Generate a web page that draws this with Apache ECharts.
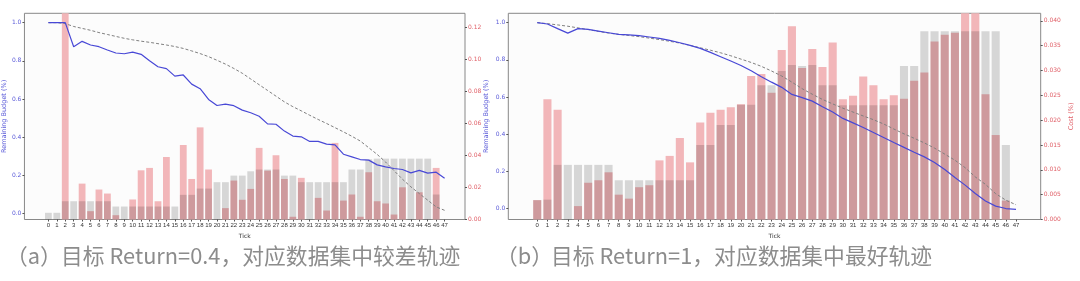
<!DOCTYPE html>
<html>
<head>
<meta charset="utf-8">
<script src="https://cdn.jsdelivr.net/npm/echarts@6/dist/echarts.min.js"></script>
<style>
html,body{margin:0;padding:0;background:#fff;}
#chart{width:1080px;height:281px;}
</style>
</head>
<body>
<div id="chart"></div>
<script>
// ---------- data ----------
const ticks = [0,1,2,3,4,5,6,7,8,9,10,11,12,13,14,15,16,17,18,19,20,21,22,23,24,25,26,27,28,29,30,31,32,33,34,35,36,37,38,39,40,41,42,43,44,45,46,47];
const budgetTicks = [0,0.2,0.4,0.6,0.8,1.0];
const costTicksA = [0,0.02,0.04,0.06,0.08,0.10,0.12];
const costTicksB = [0,0.005,0.010,0.015,0.020,0.025,0.030,0.035,0.040];

// (a) target Return = 0.4
const aCost = [0,0,0.14,0,0.0224,0.0052,0.0187,0.0162,0.0027,0,0.0125,0.0307,0.0322,0.0114,0.039,0,0.0465,0.0253,0.0575,0.0312,0,0.0071,0.0243,0.0123,0.0191,0.0447,0.0305,0.0401,0.0253,0.0017,0.026,0,0.0135,0.0056,0.0478,0.0118,0.0156,0.0017,0.0295,0.0114,0.01,0.0031,0.0201,0,0.017,0,0.0322,0];
const aPlan = [0.0042,0.0042,0.0114,0.0114,0.0114,0.0114,0.0114,0.0114,0.0081,0.0081,0.0081,0.0081,0.0081,0.0081,0.0081,0.0081,0.0154,0.0154,0.0193,0.0193,0.0233,0.0233,0.0274,0.0274,0.0301,0.0312,0.0312,0.0312,0.0274,0.0274,0.0233,0.0233,0.0233,0.0233,0.0233,0.0233,0.0312,0.0312,0.0376,0.038,0.038,0.038,0.038,0.038,0.038,0.038,0.0156,0];
const aBudget = [1.0,1.0,1.0,0.874,0.902,0.883,0.874,0.857,0.841,0.837,0.846,0.834,0.80,0.769,0.759,0.72,0.726,0.678,0.654,0.598,0.566,0.573,0.565,0.542,0.528,0.51,0.47,0.468,0.432,0.406,0.402,0.378,0.378,0.364,0.36,0.311,0.297,0.283,0.28,0.255,0.245,0.236,0.231,0.213,0.226,0.212,0.217,0.185];
const aTarget = [1.0,1.0,0.995,0.98,0.97,0.96,0.948,0.938,0.928,0.918,0.91,0.903,0.897,0.89,0.883,0.875,0.865,0.852,0.838,0.822,0.803,0.783,0.76,0.735,0.705,0.675,0.645,0.615,0.585,0.56,0.538,0.515,0.493,0.472,0.45,0.428,0.405,0.38,0.345,0.31,0.27,0.225,0.18,0.14,0.105,0.07,0.035,0.017];

// (b) target Return = 1
const bCost = [0.0039,0.0242,0.0221,0,0.0027,0.0074,0.0079,0.0095,0.005,0.0042,0.0065,0.0069,0.0119,0.0128,0.0164,0.0115,0.0195,0.0215,0.0221,0.0226,0.0232,0.0289,0.0293,0.0255,0.0341,0.0389,0.0305,0.0343,0.0307,0.0356,0.0242,0.0249,0.0288,0.027,0.0242,0.025,0.0243,0.0279,0.0296,0.0358,0.0372,0.0376,0.044,0.044,0.0252,0.017,0.0038,0];
const bPlan = [0.0039,0.004,0.011,0.011,0.011,0.011,0.011,0.011,0.0079,0.0079,0.0079,0.0079,0.0079,0.0079,0.0079,0.0079,0.015,0.015,0.019,0.019,0.0231,0.0231,0.027,0.027,0.0299,0.0311,0.0309,0.0311,0.027,0.027,0.023,0.023,0.023,0.023,0.023,0.023,0.0309,0.0309,0.0379,0.0379,0.0379,0.0379,0.0379,0.0379,0.0379,0.0379,0.015,0];
const bBudget = [1.0,0.993,0.968,0.944,0.968,0.964,0.955,0.946,0.937,0.934,0.93,0.923,0.916,0.905,0.892,0.878,0.862,0.84,0.817,0.794,0.77,0.741,0.709,0.68,0.652,0.614,0.597,0.578,0.548,0.519,0.485,0.461,0.436,0.409,0.382,0.355,0.329,0.303,0.278,0.248,0.21,0.167,0.126,0.081,0.041,0.013,0.0,-0.004];
const bTarget = [1.0,0.995,0.988,0.981,0.972,0.963,0.953,0.944,0.937,0.931,0.925,0.917,0.909,0.9,0.89,0.878,0.865,0.852,0.838,0.822,0.804,0.786,0.765,0.74,0.713,0.68,0.645,0.615,0.587,0.563,0.54,0.519,0.498,0.478,0.455,0.428,0.402,0.378,0.353,0.325,0.293,0.26,0.22,0.17,0.13,0.08,0.045,0.02];

const captionA = ['（a）', '目标 Return=0.4，对应数据集中较差轨迹'];
const captionB = ['（b）', '目标 Return=1，对应数据集中最好轨迹'];

// ---------- styles ----------
const BLUE = '#4848d6';
const BLUE_TXT = '#5a5ad8';
const RED_TXT = '#e06068';
const PINK = '#f2b6b9';
const GRAYBAR = 'rgba(0,0,0,0.15)';
const pairs = (vals) => ticks.map((t, i) => [t, vals[i]]);

function xAxis(gi) {
  return {
    type: 'value', gridIndex: gi, min: -2.84, max: 49.42,
    axisLine: {show: false, onZero: false},
    splitLine: {show: false},
    axisTick: {show: true, length: 2, lineStyle: {color: '#555'}, customValues: ticks},
    axisLabel: {fontSize: 6, color: '#333', margin: 3, customValues: ticks, formatter: v => String(v), fontFamily: 'Liberation Sans'},
    name: 'Tick', nameLocation: 'middle', nameGap: 11,
    nameTextStyle: {fontSize: 6, color: '#333', fontFamily: 'DejaVu Sans'}
  };
}
function budgetAxis(gi, min, max, gap) {
  return {
    type: 'value', gridIndex: gi, position: 'left', min: min, max: max,
    axisLine: {show: false, onZero: false}, splitLine: {show: false},
    axisTick: {show: true, length: 2, lineStyle: {color: '#555'}, customValues: budgetTicks},
    axisLabel: {fontSize: 6, color: BLUE_TXT, margin: 3, customValues: budgetTicks, formatter: v => v.toFixed(1), fontFamily: 'DejaVu Sans'},
    name: 'Remaining Budget (%)', nameLocation: 'middle', nameGap: gap, nameRotate: 90,
    nameTextStyle: {fontSize: 6.5, color: BLUE_TXT, fontFamily: 'DejaVu Sans'}
  };
}
function costAxis(gi, max, tv, digits, showName) {
  return {
    type: 'value', gridIndex: gi, position: 'right', min: 0, max: max,
    axisLine: {show: false, onZero: false}, splitLine: {show: false},
    axisTick: {show: true, length: 2, lineStyle: {color: '#555'}, customValues: tv},
    axisLabel: {fontSize: 6, color: RED_TXT, margin: 3, customValues: tv, formatter: v => v.toFixed(digits), fontFamily: 'DejaVu Sans'},
    name: showName ? 'Cost (%)' : '', nameLocation: 'middle', nameGap: 27, nameRotate: 90,
    nameTextStyle: {fontSize: 6.5, color: RED_TXT, fontFamily: 'DejaVu Sans'}
  };
}
function seriesFor(gi, cost, plan, budget, target, bw) {
  const xi = gi, yb = gi * 2, yc = gi * 2 + 1;
  return [
    {type: 'bar', xAxisIndex: xi, yAxisIndex: yc, data: pairs(cost), barWidth: bw, barGap: '-100%',
     itemStyle: {color: PINK}, z: 2, clip: true},
    {type: 'bar', xAxisIndex: xi, yAxisIndex: yc, data: pairs(plan), barWidth: bw, barGap: '-100%',
     itemStyle: {color: GRAYBAR}, z: 3, clip: true},
    {type: 'line', xAxisIndex: xi, yAxisIndex: yb, data: pairs(target), showSymbol: false,
     lineStyle: {color: '#808080', width: 1, type: [3, 2]}, z: 4},
    {type: 'line', xAxisIndex: xi, yAxisIndex: yb, data: pairs(budget), showSymbol: false,
     lineStyle: {color: BLUE, width: 1.2}, z: 5}
  ];
}

const captionStyle = {fontSize: 21.8, fill: '#8c8c8c', fontFamily: '"Noto Sans CJK SC", sans-serif', verticalAlign: 'middle'};

const option = {
  animation: false,
  backgroundColor: '#ffffff',
  grid: [
    {left: 22, right: 615, top: 13.3, bottom: 61.5, show: true, borderColor: '#888', borderWidth: 1, backgroundColor: '#fcfcfc'},
    {left: 508.3, right: 39.3, top: 13.3, bottom: 61.5, show: true, borderColor: '#888', borderWidth: 1, backgroundColor: '#fcfcfc'}
  ],
  xAxis: [xAxis(0), xAxis(1)],
  yAxis: [
    budgetAxis(0, -0.031, 1.049, 15),
    costAxis(0, 0.1287, costTicksA, 2, false),
    budgetAxis(1, -0.059, 1.0505, 18),
    costAxis(1, 0.0415, costTicksB, 3, true)
  ],
  series: [].concat(
    seriesFor(0, aCost, aPlan, aBudget, aTarget, 6.8),
    seriesFor(1, bCost, bPlan, bBudget, bTarget, 8.1)
  ),
  graphic: [
    {type: 'text', left: 6, top: 245, style: Object.assign({text: captionA[0]}, captionStyle)},
    {type: 'text', left: 61, top: 245, style: Object.assign({text: captionA[1]}, captionStyle)},
    {type: 'text', left: 496, top: 245, style: Object.assign({text: captionB[0]}, captionStyle)},
    {type: 'text', left: 551, top: 245, style: Object.assign({text: captionB[1]}, captionStyle)}
  ]
};

const chart = echarts.init(document.getElementById('chart'), null, {renderer: 'canvas'});
chart.setOption(option);
</script>
</body>
</html>
